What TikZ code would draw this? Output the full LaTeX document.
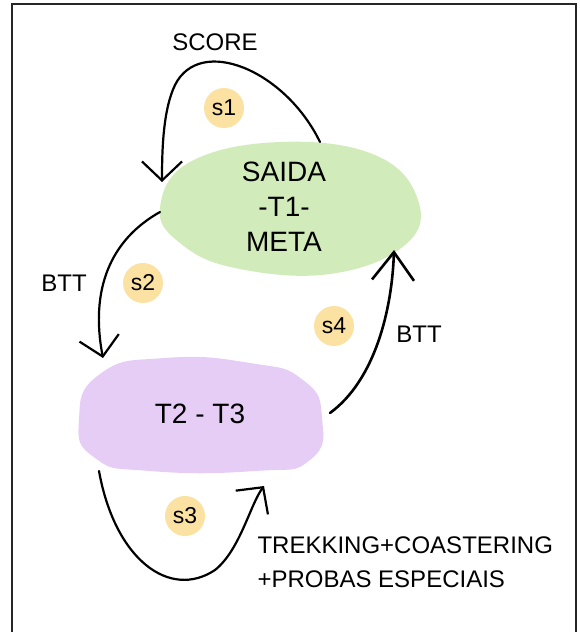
\documentclass[tikz,border=0pt]{standalone}
\usepackage{fontspec}
\setmainfont{Liberation Sans}
\usetikzlibrary{arrows.meta}
\definecolor{greenfill}{HTML}{D2EBBB}
\definecolor{purplefill}{HTML}{E6CDF6}
\definecolor{badgefill}{HTML}{FBE2A2}
\tikzset{
  conn/.style={line width=2.2pt, line cap=round, -{Straight Barb[length=19pt,width=40pt,line width=2.2pt]}},
  badge/.style={circle, fill=badgefill, minimum size=40pt, inner sep=0pt, font=\fontsize{23}{25}\selectfont},
  lbl/.style={font=\fontsize{24}{27}\selectfont},
  blobtext/.style={font=\fontsize{28}{35}\selectfont, align=center},
}
\begin{document}
\begin{tikzpicture}[x=1pt,y=-1pt]
\useasboundingbox (0,0) rectangle (579,632);
% frame
\draw[line width=1.8pt, black!85] (12,640) -- (12,4) -- (576,4) -- (576,640);
% blobs
\fill[greenfill] plot[smooth cycle, tension=0.7] coordinates {(160,208) (190,162) (280,142) (375,155) (418,200) (405,245) (330,274) (235,268) (180,243)};
\fill[purplefill] plot[smooth cycle, tension=0.9] coordinates {(79,420) (100,374) (165,358) (250,363) (303,380) (322,418) (310,460) (255,471) (150,471) (95,458)};
% blob texts
\node[blobtext] (green) at (284,207) {SAIDA\\-T1-\\META};
\node[blobtext] (purple) at (200,414) {T2 - T3};
% badges
\node[badge] (b1) at (224,108) {s1};
\node[badge] (b2) at (143,283) {s2};
\node[badge] (b4) at (334,326) {s4};
\node[badge] (b3) at (185,516) {s3};
% labels
\node[lbl] (score) at (215,42) {SCORE};
\node[lbl] (bttl) at (64,283) {BTT};
\node[lbl] (bttr) at (419,334) {BTT};
\node[lbl, anchor=west] (trek) at (254,545) {TREKKING+COASTERING};
\node[lbl, anchor=west] (probas) at (254,579) {+PROBAS ESPECIAIS};
% connector endpoints
\coordinate (s1a) at (320,142);
\coordinate (s1b) at (162,182);
\coordinate (s2a) at (160,212);
\coordinate (s2b) at (103,358);
\coordinate (s4a) at (330,413);
\coordinate (s4b) at (394,250);
\coordinate (s3a) at (99,471);
\coordinate (s3b) at (264,486);
% connectors
\draw[conn] (s1a) .. controls (285,70) and (200,35) .. (175,85) .. controls (163,110) and (162,150) .. (s1b);
\draw[conn] (s2a) .. controls (110,240) and (90,290) .. (s2b);
\draw[conn, line width=2.6pt, -{Straight Barb[length=28pt,width=42pt,line width=2.6pt]}] (s4a) .. controls (375,380) and (392,310) .. (s4b);
\draw[conn] (s3a) .. controls (115,560) and (170,600) .. (215,570) .. controls (240,550) and (250,505) .. (s3b);
\end{tikzpicture}
\end{document}
